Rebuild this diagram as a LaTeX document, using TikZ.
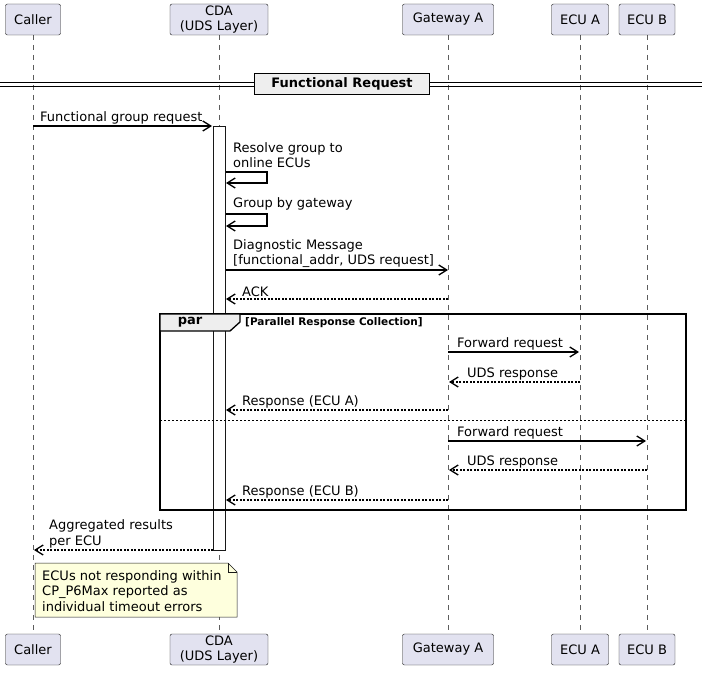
\documentclass[tikz,border=0pt]{standalone}
\usepackage{fontspec}
\setmainfont{DejaVu Sans}
\usetikzlibrary{arrows.meta,positioning}
\definecolor{partfill}{HTML}{E2E2F0}
\definecolor{partline}{HTML}{181818}
\definecolor{notefill}{HTML}{FEFFDD}
\definecolor{groupfill}{HTML}{EEEEEE}
\tikzset{
  part/.style={draw=partline,fill=partfill,rounded corners=2pt,align=center,
    font=\fontsize{13}{15}\selectfont,inner sep=0pt},
  msg/.style={line width=1.3pt,-{Straight Barb[length=8pt,width=10pt,line width=1.3pt]}},
  ret/.style={msg,dash pattern=on 2pt off 1.5pt},
  lbl/.style={font=\fontsize{13}{15.5}\selectfont,align=left,anchor=south west,inner sep=0pt},
  life/.style={draw=partline!70,dash pattern=on 5pt off 5pt,line width=0.5pt},
}
\begin{document}
\begin{tikzpicture}[x=1pt,y=-1pt]
  \useasboundingbox (0,0) rectangle (702,685);

  % participants, top and bottom
  \foreach \n/\x/\w/\t in {caller/33/55/Caller,cda/219/98/{CDA\\(UDS Layer)},gw/448/91/Gateway A,ecua/580/57/ECU A,ecub/647/56/ECU B}{
    \draw[life] (\x,35) -- (\x,634);
    \node[part,minimum width=\w,minimum height=31] (\n top) at (\x,19.5) {\t};
    \node[part,minimum width=\w,minimum height=31] (\n bot) at (\x,649.5) {\t};
  }

  % divider
  \draw[line width=0.8pt] (0,82) -- (702,82) (0,86) -- (702,86);
  \node[draw,line width=1.6pt,fill=groupfill,minimum width=175,minimum height=21,
    font=\bfseries\fontsize{13}{15}\selectfont] (divider) at (342,84) {Functional Request};

  % activation
  \draw[fill=white,draw=partline] (213,126) rectangle (225,550);

  \draw[msg] (33,126) -- (212,126);
  \node[lbl] (m1) at (40,124) {Functional group request};

  \draw[msg] (226,172) -- (267,172) -- (267,183) -- (226,183);
  \node[lbl] (m2) at (233,168) {Resolve group to\\online ECUs};
  \draw[msg] (226,214) -- (267,214) -- (267,226) -- (226,226);
  \node[lbl] (m3) at (233,210) {Group by gateway};

  \draw[msg] (226,270) -- (448,270);
  \node[lbl] (m4) at (233,268) {Diagnostic Message\\{}[functional\_addr, UDS request]};
  \draw[ret] (448,299) -- (226,299);
  \node[lbl] (m5) at (242,297) {ACK};

  % par frame
  \draw[line width=1.3pt] (160,314) rectangle (686,510);
  \draw[line width=1.3pt,fill=groupfill] (160,314) -- (240,314) -- (240,322) -- (230,331) -- (160,331) -- cycle;
  \node[font=\bfseries\fontsize{13}{15}\selectfont] (par) at (190,322) {par};
  \node[font=\bfseries\fontsize{10.5}{12}\selectfont,anchor=west,inner sep=0pt] (guard) at (245,323) {[Parallel Response Collection]};

  \draw[msg] (448,352) -- (579,352);
  \node[lbl] (m6) at (457,350) {Forward request};
  \draw[ret] (580,382) -- (449,382);
  \node[lbl] (m7) at (467,380) {UDS response};
  \draw[ret] (448,410) -- (226,410);
  \node[lbl] (m8) at (242,408) {Response (ECU A)};
  \draw[dash pattern=on 2pt off 2pt,line width=0.7pt] (160,420) -- (686,420);
  \draw[msg] (448,441) -- (646,441);
  \node[lbl] (m9) at (457,439) {Forward request};
  \draw[ret] (647,470) -- (449,470);
  \node[lbl] (m10) at (467,468) {UDS response};
  \draw[ret] (448,500) -- (226,500);
  \node[lbl] (m11) at (242,498) {Response (ECU B)};

  \draw[ret] (213,550) -- (34,550);
  \node[lbl] (m12) at (49,548) {Aggregated results\\per ECU};

  % note
  \draw[draw=partline,fill=notefill,line width=0.5pt] (35,563) -- (228,563) -- (237,572) -- (237,617) -- (35,617) -- cycle;
  \draw[draw=partline,line width=0.5pt] (228,563) -- (228,572) -- (237,572);
  \node[lbl,anchor=north west] (note) at (42,570) {ECUs not responding within\\CP\_P6Max reported as\\individual timeout errors};
\end{tikzpicture}
\end{document}
